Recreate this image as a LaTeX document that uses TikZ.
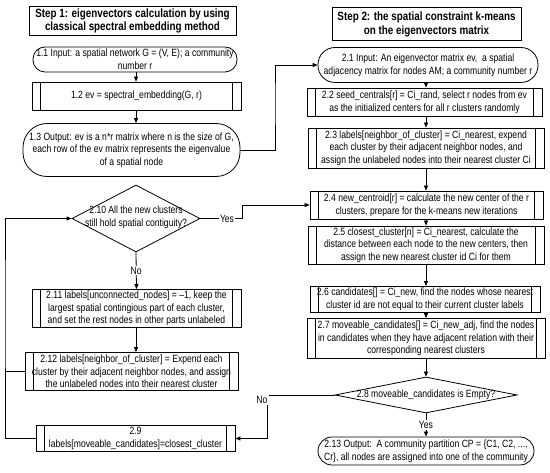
\documentclass[tikz,border=0pt]{standalone}
\usepackage{fontspec}
\setmainfont{Liberation Sans}[FakeStretch=0.82]
\usetikzlibrary{shapes.geometric,arrows.meta}
\begin{document}
\begin{tikzpicture}[x=1pt,y=-1pt,
  every node/.style={font=\fontsize{10.5}{12.6}\selectfont, inner sep=0pt, align=center},
  base/.style={draw, line width=0.8pt},
  header/.style={base, line width=1pt, font=\fontsize{12}{13.8}\selectfont\bfseries},
  proc/.style={base, path picture={
      \draw[line width=0.8pt] ([xshift=8.5pt]path picture bounding box.north west) -- ([xshift=8.5pt]path picture bounding box.south west);
      \draw[line width=0.8pt] ([xshift=-8.5pt]path picture bounding box.north east) -- ([xshift=-8.5pt]path picture bounding box.south east);}},
  term/.style={base, inner xsep=-20pt},
  dec/.style={base, diamond},
  lbl/.style={fill=white, inner sep=1pt},
  arr/.style={line width=0.8pt, -{Triangle[length=5pt,width=4pt]}},
  con/.style={line width=0.8pt}
]
\useasboundingbox (0,0) rectangle (550,473);
% headers
\node[header, minimum width=207pt, minimum height=29pt] (s1) at (132.5,21) {Step 1: eigenvectors calculation by using\\classical spectral embedding method};
\node[header, minimum width=189pt, minimum height=33pt] (s2) at (426.5,24.5) {Step 2: the spatial constraint k-means\\on the eigenvectors matrix};
% left column
\node[term, rounded corners=12pt, minimum width=204pt, minimum height=25pt] (n11) at (135,59.5) {1.1 Input: a spatial network G = (V, E); a community\\number r};
\node[proc, minimum width=209pt, minimum height=28pt] (n12) at (136.5,96) {1.2 ev = spectral\_embedding(G, r)};
\node[term, rounded corners=24pt, minimum width=217pt, minimum height=53pt] (n13) at (131.5,150) {1.3 Output: ev is a n*r matrix where n is the size of G,\\each row of the ev matrix represents the eigenvalue\\of a spatial node};
\node[dec, minimum width=128pt, minimum height=67pt] (d210) at (136,218.5) {};
\node (t210) at (136,217) {2.10 All the new clusters\\still hold spatial contiguity?};
\node[proc, minimum width=209pt, minimum height=38pt] (n211) at (136.5,308.5) {2.11 labels[unconnected\_nodes] = --1, keep the\\largest spatial contingious part of each cluster,\\and set the rest nodes in other parts unlabeled};
\node[proc, minimum width=213pt, minimum height=38pt] (n212) at (131.5,371.5) {2.12 labels[neighbor\_of\_cluster] = Expend each\\cluster by their adjacent neighbor nodes, and assign\\the unlabeled nodes into their nearest cluster};
\node[proc, minimum width=199pt, minimum height=26pt] (n29) at (135.5,438.5) {2.9\\labels[moveable\_candidates]=closest\_cluster};
% right column
\node[term, rounded corners=17pt, minimum width=220pt, minimum height=35pt] (n21) at (428,65) {2.1 Input: An eigenvector matrix ev,\ \ a spatial\\adjacency matrix for nodes AM; a community number r};
\node[proc, minimum width=235pt, minimum height=28pt] (n22) at (424.5,102) {2.2 seed\_centrals[r] = Ci\_rand, select r nodes from ev\\as the initialized centers for all r clusters randomly};
\node[proc, minimum width=236pt, minimum height=40pt] (n23) at (426,148) {2.3 labels[neighbor\_of\_cluster] = Ci\_nearest, expend\\each cluster by their adjacent neighbor nodes, and\\assign the unlabeled nodes into their nearest cluster Ci};
\node[proc, minimum width=233pt, minimum height=28pt] (n24) at (426.5,205) {2.4 new\_centroid[r] = calculate the new center of the r\\clusters, prepare for the k-means new iterations};
\node[proc, minimum width=236pt, minimum height=38pt] (n25) at (426,245) {2.5 closest\_cluster[n] = Ci\_nearest, calculate the\\distance between each node to the new centers, then\\assign the new nearest cluster id Ci for them};
\node[proc, minimum width=230pt, minimum height=26pt] (n26) at (425,299.5) {2.6 candidates[] = Ci\_new, find the nodes whose nearest\\cluster id are not equal to their current cluster labels};
\node[proc, minimum width=238pt, minimum height=40pt] (n27) at (426,338.5) {2.7 moveable\_candidates[] = Ci\_new\_adj, find the nodes\\in candidates when they have adjacent relation with their\\corresponding nearest clusters};
\node[dec, minimum width=182pt, minimum height=36pt] (d28) at (426,395) {};
\node (t28) at (426,395) {2.8 moveable\_candidates is Empty?};
\node[term, rounded corners=14pt, minimum width=216pt, minimum height=28pt] (n213) at (426,451) {2.13 Output:\ \ A community partition CP = \{C1, C2, ...,\\Cr\}, all nodes are assigned into one of the community};
% helper coordinates
\coordinate (ax) at (136,0);
\coordinate (bx) at (426,0);
\coordinate (jx) at (275,100);
\coordinate (jy) at (242,210);
\coordinate (lx) at (5,300);
\coordinate (nx) at (267,420);
% connectors left
\draw[arr] (n11.south -| ax) -- (n12.north -| ax);
\draw[arr] (n12.south -| ax) -- (n13.north -| ax);
\draw[arr] (n13.east) -| (jx) |- (n21.west);
\draw[arr] (d210.east) -- node[lbl, pos=0.64]{Yes} (d210.east -| jy) |- (n24.west);
\draw[arr] (d210.south) -- node[lbl]{No} (n211.north);
\draw[arr] (n211.south -| ax) -- (n212.north -| ax);
\draw[arr] (n29.west) -| (lx) |- (d210.west);
\draw[con] (n212.west) -- (n212.west -| lx);
% connectors right
\draw[arr] (n21.south -| bx) -- (n22.north -| bx);
\draw[arr] (n22.south -| bx) -- (n23.north -| bx);
\draw[arr] (n23.south -| bx) -- (n24.north -| bx);
\draw[arr] (n24.south -| bx) -- (n25.north -| bx);
\draw[arr] (n25.south -| bx) -- (n26.north -| bx);
\draw[arr] (n26.south -| bx) -- (n27.north -| bx);
\draw[arr] (n27.south -| bx) -- (d28.north);
\draw[arr] (d28.south) -- node[lbl]{Yes} (n213.north);
\draw[arr] (d28.west) -- (d28.west -| nx) |- (n29.east);
\node[lbl] (no2) at (262,400) {No};
\end{tikzpicture}
\end{document}
